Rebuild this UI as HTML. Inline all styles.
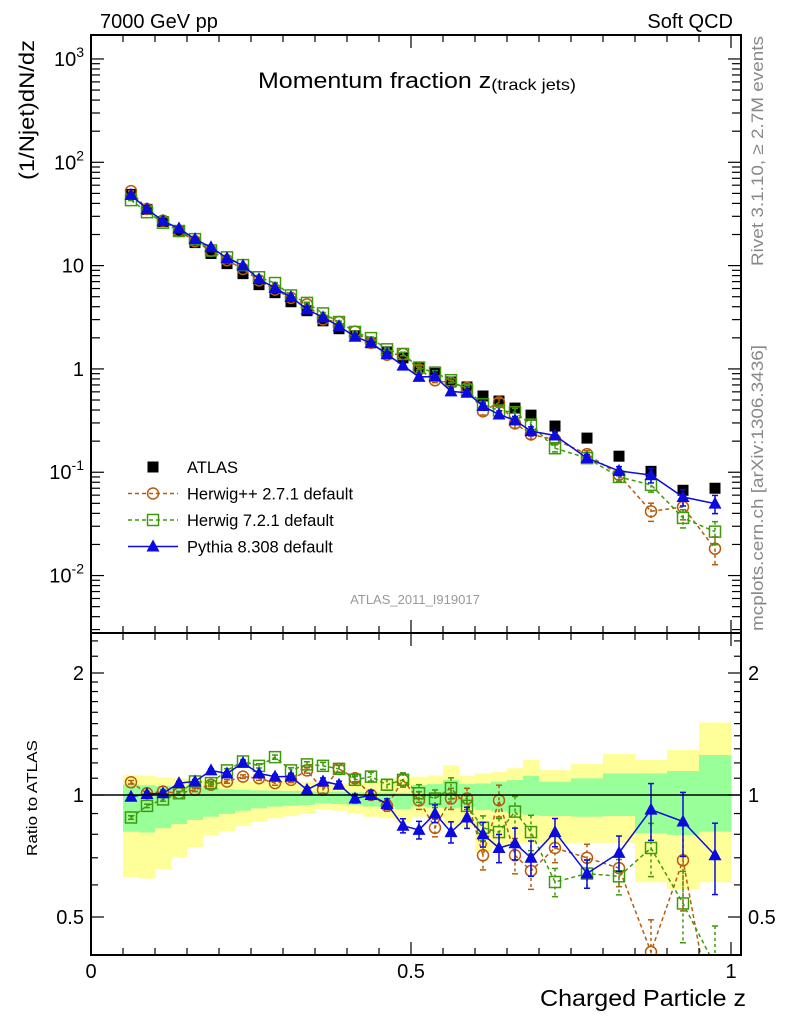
<!DOCTYPE html>
<html><head><meta charset="utf-8"><style>
html,body{margin:0;padding:0;background:#fff;width:786px;height:1024px;overflow:hidden;}
svg{display:block;font-family:"Liberation Sans",Arial,sans-serif;}
</style></head><body>
<svg id="chart" width="786" height="1024" viewBox="0 0 786 1024" xmlns="http://www.w3.org/2000/svg">
<defs>
<clipPath id="clipMain"><rect x="91" y="35" width="650" height="598"/></clipPath>
<clipPath id="clipRatio"><rect x="91" y="633" width="650" height="322"/></clipPath>
</defs>
<g id="bands" clip-path="url(#clipRatio)"></g>
<g id="mainMarks" clip-path="url(#clipMain)"></g>
<g id="ratioMarks" clip-path="url(#clipRatio)"></g>
<g id="axes"></g>
<text x="100" y="28" font-size="20">7000 GeV pp</text>
<text x="733" y="28" font-size="20" text-anchor="end">Soft QCD</text>
<text x="258" y="88" font-size="22" textLength="318" lengthAdjust="spacingAndGlyphs">Momentum fraction z<tspan font-size="16" dy="2">(track jets)</tspan></text>
<text transform="translate(34,180) rotate(-90)" font-size="21" textLength="140" lengthAdjust="spacingAndGlyphs">(1/Njet)dN/dz</text>
<text transform="translate(37,856) rotate(-90)" font-size="15" textLength="116" lengthAdjust="spacingAndGlyphs">Ratio to ATLAS</text>
<text x="746" y="1006" font-size="23" text-anchor="end" textLength="206" lengthAdjust="spacingAndGlyphs">Charged Particle z</text>
<text transform="translate(763,266) rotate(-90)" font-size="17" fill="#888" textLength="230" lengthAdjust="spacingAndGlyphs">Rivet 3.1.10, ≥ 2.7M events</text>
<text transform="translate(763,631) rotate(-90)" font-size="17" fill="#888" textLength="286" lengthAdjust="spacingAndGlyphs">mcplots.cern.ch [arXiv:1306.3436]</text>
<text x="415" y="604" font-size="13" fill="#999" text-anchor="middle">ATLAS_2011_I919017</text>
<g id="legend"></g>
</svg>
<script>
// ---- data ----
const binLo = [0.05,0.075,0.1,0.125,0.15,0.175,0.2,0.225,0.25,0.275,0.3,0.325,0.35,0.375,0.4,0.425,0.45,0.475,0.5,0.525,0.55,0.575,0.6,0.625,0.65,0.675,0.7,0.75,0.8,0.85,0.9,0.95];
const binHi = [0.075,0.1,0.125,0.15,0.175,0.2,0.225,0.25,0.275,0.3,0.325,0.35,0.375,0.4,0.425,0.45,0.475,0.5,0.525,0.55,0.575,0.6,0.625,0.65,0.675,0.7,0.75,0.8,0.85,0.9,0.95,1.0];
const atlasVals = [48.9,35.0,26.7,21.4,16.7,13.1,10.45,8.36,6.54,5.47,4.47,3.66,2.92,2.45,2.09,1.79,1.46,1.28,1.02,0.935,0.748,0.669,0.547,0.489,0.418,0.357,0.280,0.214,0.143,0.102,0.0669,0.070];
const herwigppRatio = [1.075,1.01,1.02,1.01,1.03,1.06,1.08,1.11,1.10,1.07,1.09,1.15,1.03,1.16,1.10,1.0,0.94,1.09,0.97,0.83,0.98,0.98,0.71,0.97,0.71,0.65,0.74,0.70,0.66,0.41,0.69,0.26];
const herwig7Ratio = [0.88,0.94,0.975,1.01,1.08,1.07,1.15,1.21,1.18,1.24,1.15,1.19,1.18,1.16,1.09,1.11,1.06,1.09,1.01,0.98,1.04,0.94,0.83,0.81,0.91,0.81,0.61,0.64,0.63,0.74,0.54,0.38];
const pythiaRatio = [0.99,1.006,1.01,1.07,1.08,1.15,1.13,1.2,1.13,1.11,1.11,1.03,1.08,1.06,0.98,1.0,0.95,0.84,0.82,0.9,0.81,0.88,0.80,0.74,0.76,0.70,0.81,0.64,0.72,0.92,0.86,0.71];
const herwigppErr = [0.01,0.01,0.01,0.01,0.01,0.01,0.01,0.01,0.012,0.012,0.015,0.015,0.02,0.02,0.02,0.025,0.03,0.04,0.05,0.05,0.06,0.06,0.08,0.09,0.1,0.1,0.08,0.08,0.1,0.2,0.25,0.3];
const herwig7Err = [0.01,0.01,0.01,0.01,0.01,0.01,0.01,0.01,0.012,0.012,0.015,0.015,0.02,0.02,0.02,0.025,0.03,0.04,0.05,0.05,0.06,0.06,0.07,0.08,0.09,0.1,0.08,0.08,0.1,0.15,0.2,0.25];
const pythiaErr = [0.01,0.01,0.01,0.01,0.01,0.01,0.01,0.01,0.012,0.012,0.015,0.015,0.02,0.02,0.025,0.025,0.03,0.04,0.05,0.05,0.06,0.06,0.07,0.08,0.09,0.1,0.08,0.08,0.1,0.16,0.18,0.2];
const yellowHi = [1.122,1.114,1.105,1.099,1.093,1.089,1.087,1.083,1.081,1.079,1.077,1.075,1.072,1.068,1.07,1.08,1.09,1.10,1.11,1.118,1.184,1.116,1.131,1.141,1.164,1.22,1.152,1.192,1.262,1.22,1.291,1.51];
const greenHi = [1.062,1.057,1.052,1.046,1.041,1.037,1.033,1.030,1.026,1.025,1.023,1.021,1.019,1.019,1.015,1.015,1.014,1.012,1.059,1.064,1.089,1.064,1.068,1.079,1.089,1.114,1.079,1.099,1.131,1.131,1.146,1.255];
const greenLo = [0.812,0.808,0.828,0.848,0.868,0.884,0.898,0.915,0.927,0.936,0.941,0.945,0.954,0.95,0.945,0.936,0.933,0.923,0.936,0.932,0.927,0.932,0.918,0.91,0.901,0.893,0.888,0.884,0.888,0.804,0.797,0.812];
const yellowLo = [0.627,0.622,0.656,0.702,0.743,0.794,0.815,0.838,0.859,0.876,0.887,0.898,0.923,0.915,0.901,0.884,0.876,0.855,0.884,0.876,0.843,0.835,0.723,0.745,0.76,0.76,0.762,0.762,0.762,0.609,0.586,0.609];
const yTickLabels = ["10^-2","10^-1","1","10","10^2","10^3"];
const xTickLabels = ["0","0.5","1"];
const ratioTickLabels = ["0.5","1","2"];

// ---- axes ----
const X0=91, XR=741, PXU=640;
const MT=35, MB=633, RT=633, RB=955;
const LOGTOP=3.232, LOGBOT=-2.556;
const R1=795, RPX=122;
const xS = z => X0 + z*PXU;
const yMain = v => MT + (LOGTOP - Math.log10(v)) / (LOGTOP-LOGBOT) * (MB-MT);
const yRatio = r => R1 - RPX*Math.log2(r);
const NS="http://www.w3.org/2000/svg";
function mk(tag, attrs, parent){const e=document.createElementNS(NS,tag);for(const k in attrs)e.setAttribute(k,attrs[k]);if(parent)parent.appendChild(e);return e;}

const bands=document.getElementById('bands');
for(let i=0;i<binLo.length;i++){
  const x1=xS(binLo[i]), w=xS(binHi[i])-x1;
  const yb=mk('rect',{x:x1,y:yRatio(yellowHi[i]),width:w+0.5,height:yRatio(yellowLo[i])-yRatio(yellowHi[i]),fill:'#ffff99'},bands);
  
  
  const gb=mk('rect',{x:x1,y:yRatio(greenHi[i]),width:w+0.5,height:yRatio(greenLo[i])-yRatio(greenHi[i]),fill:'#99ff99'},bands);
  
  
}

const axes=document.getElementById('axes');
const frameM=mk('rect',{x:X0,y:MT,width:XR-X0,height:MB-MT,fill:'none',stroke:'#000','stroke-width':2},axes);


const frameR=mk('rect',{x:X0,y:RT,width:XR-X0,height:RB-RT,fill:'none',stroke:'#000','stroke-width':2},axes);


const unity=mk('line',{x1:X0,x2:XR,y1:R1,y2:R1,stroke:'#000','stroke-width':1.5},axes);



for(let k=0;k<=20;k++){
  const z=k*0.05, x=xS(z), major=(k%10===0), L=major?13:7;
  [[MT,1],[MB,-1],[RT,1],[RB,-1]].forEach(([y,d])=>{mk('line',{x1:x,x2:x,y1:y,y2:y+d*L,stroke:'#000','stroke-width':1.2},axes);});
}
xTickLabels.forEach((t,i)=>{
  const lab=mk('text',{x:xS(i*0.5),y:978,'font-size':20,'text-anchor':'middle'},axes);
  lab.textContent=t;
  
  
});
for(let d=-3;d<=3;d++){
  for(let m=1;m<=9;m++){
    const v=m*Math.pow(10,d), lv=Math.log10(v);
    if(lv>LOGTOP||lv<LOGBOT)continue;
    const y=yMain(v), L=(m===1)?13:9;
    mk('line',{x1:X0,x2:X0+L,y1:y,y2:y,stroke:'#000','stroke-width':1.2},axes);
    mk('line',{x1:XR,x2:XR-L,y1:y,y2:y,stroke:'#000','stroke-width':1.2},axes);
  }
}
yTickLabels.forEach((t,i)=>{
  const v=Math.pow(10,i-2);
  const lab=mk('text',{x:84,y:yMain(v)+7,'font-size':20,'text-anchor':'end'},axes);
  
  
  const parts=t.split('^');
  if(parts.length===2){
    lab.appendChild(document.createTextNode(parts[0]));
    const sp=mk('tspan',{'font-size':14,dy:-9},lab); sp.textContent=parts[1];
  } else lab.textContent=t;
});
for(let k=4;k<=25;k++){
  const r=k/10; if(r>2&&k%2) continue;
  const y=yRatio(r); if(y<RT||y>RB)continue;
  const major=(k===5||k===10||k===20), L=major?13:7;
  mk('line',{x1:X0,x2:X0+L,y1:y,y2:y,stroke:'#000','stroke-width':1.2},axes);
  mk('line',{x1:XR,x2:XR-L,y1:y,y2:y,stroke:'#000','stroke-width':1.2},axes);
}
ratioTickLabels.forEach(t=>{
  const y=yRatio(parseFloat(t))+7;
  const a=mk('text',{x:84,y:y,'font-size':20,'text-anchor':'end'},axes); a.textContent=t;
  
  
  const b=mk('text',{x:748,y:y,'font-size':20},axes); b.textContent=t;
  
  
});

function marker(g,type,x,y,col){
  if(type==='sq') return mk('rect',{x:x-5.5,y:y-5.5,width:11,height:11,fill:'#000'},g);
  if(type==='circ') return mk('circle',{cx:x,cy:y,r:5.5,fill:'none',stroke:col,'stroke-width':1.5},g);
  if(type==='osq') return mk('rect',{x:x-5.5,y:y-5.5,width:11,height:11,fill:'none',stroke:col,'stroke-width':1.5},g);
  return mk('polygon',{points:`${x},${y-7} ${x-6.5},${y+5} ${x+6.5},${y+5}`,fill:col},g);
}
const centers = binLo.map((lo,i)=>(lo+binHi[i])/2);
const series=[
  {name:'herwigpp',ratio:herwigppRatio,err:herwigppErr,col:'#b65c0a',type:'circ',dash:'4,3'},
  {name:'herwig7',ratio:herwig7Ratio,err:herwig7Err,col:'#3f9a0b',type:'osq',dash:'4,3'},
  {name:'pythia',ratio:pythiaRatio,err:pythiaErr,col:'#0b0be0',type:'tri',dash:null}
];
const mainG=document.getElementById('mainMarks');
const ratioG=document.getElementById('ratioMarks');
centers.forEach((c,i)=>{
  const m=marker(mainG,'sq',xS(c),yMain(atlasVals[i]));
  
  
});
series.forEach(s=>{
  [[mainG,i=>yMain(atlasVals[i]*s.ratio[i]),(i,f)=>yMain(atlasVals[i]*s.ratio[i]*f)],[ratioG,i=>yRatio(s.ratio[i]),(i,f)=>yRatio(s.ratio[i]*f)]].forEach(([g,yf,yef])=>{
    const pts=centers.map((c,i)=>xS(c)+','+yf(i)).join(' ');
    const pl=mk('polyline',{points:pts,fill:'none',stroke:s.col,'stroke-width':1.5},g);
    if(s.dash) pl.setAttribute('stroke-dasharray',s.dash);
    
    
    centers.forEach((c,i)=>{
      const x=xS(c), y1=yef(i,1+s.err[i]), y2=yef(i,Math.max(0.01,1-s.err[i]));
      const eb=mk('line',{x1:x,x2:x,y1:y1,y2:y2,stroke:s.col,'stroke-width':1.5},g);
      if(s.dash) eb.setAttribute('stroke-dasharray','3,3');
      
      
      mk('line',{x1:x-3,x2:x+3,y1:y1,y2:y1,stroke:s.col,'stroke-width':1.5},g);
      mk('line',{x1:x-3,x2:x+3,y1:y2,y2:y2,stroke:s.col,'stroke-width':1.5},g);
      const m=marker(g,s.type,x,yf(i),s.col);
      
      
    });
  });
});

const leg=document.getElementById('legend');
const legItems=[['ATLAS','sq','#000',null,'legend-entry-atlas'],['Herwig++ 2.7.1 default','circ','#b65c0a','4,3','legend-entry-herwigpp'],['Herwig 7.2.1 default','osq','#3f9a0b','4,3','legend-entry-herwig7'],['Pythia 8.308 default','tri','#0b0be0',null,'legend-entry-pythia']];
legItems.forEach((it,i)=>{
  const y=467+i*26.5;
  const g=mk('g',{},leg);
  
  
  if(i>0){const l=mk('line',{x1:128,x2:178,y1:y,y2:y,stroke:it[2],'stroke-width':1.5},g); if(it[3]) l.setAttribute('stroke-dasharray',it[3]);}
  marker(g,it[1],153,y,it[2]);
  const t=mk('text',{x:187,y:y+6,'font-size':16.5},g); t.textContent=it[0];
});
</script>
</body></html>
